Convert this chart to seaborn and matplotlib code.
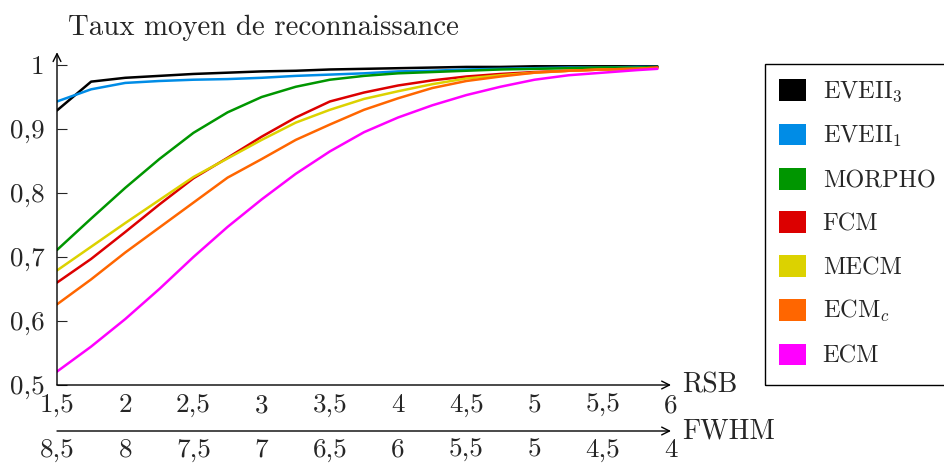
"""
Taux moyen de reconnaissance en fonction du RSB / FWHM.
"""
import numpy as np
import pandas as pd
import matplotlib
matplotlib.use('Agg')
import matplotlib.pyplot as plt
import seaborn as sns
from matplotlib.patches import Patch, Rectangle

# valeurs
rsb = [1.5, 1.75, 2.0, 2.25, 2.5, 2.75, 3.0, 3.25, 3.5, 3.75,
       4.0, 4.25, 4.5, 4.75, 5.0, 5.25, 5.5, 5.75, 5.9]
eveii3 = [.929, .974, .980, .983, .986, .988, .990, .991, .993, .994,
          .995, .996, .997, .997, .998, .998, .998, .998, .998]
eveii1 = [.943, .962, .972, .975, .977, .978, .980, .983, .985, .987,
          .990, .991, .993, .994, .995, .996, .996, .997, .997]
morpho = [.711, .760, .808, .853, .894, .926, .950, .966, .977, .983,
          .987, .989, .991, .993, .994, .995, .996, .996, .997]
fcm = [.660, .697, .739, .782, .823, .855, .888, .918, .943, .957,
       .968, .976, .982, .986, .989, .991, .993, .994, .996]
mecm = [.679, .716, .753, .789, .825, .854, .883, .910, .930, .947,
        .959, .970, .979, .984, .988, .991, .993, .994, .995]
ecmc = [.626, .665, .707, .746, .785, .824, .853, .883, .907, .930,
        .948, .964, .975, .982, .988, .991, .993, .994, .996]
ecm = [.521, .560, .603, .650, .700, .747, .790, .830, .865, .895,
       .918, .937, .953, .966, .977, .984, .988, .992, .994]

methods = [r'EVEII$_3$', r'EVEII$_1$', 'MORPHO', 'FCM', 'MECM', r'ECM$_c$', 'ECM']
series = [eveii3, eveii1, morpho, fcm, mecm, ecmc, ecm]
colors = ['#000000', '#008ce6', '#009600', '#dc0000', '#dcd200', '#ff6600', '#ff00ff']

rsb_ticks = [1.5, 2, 2.5, 3, 3.5, 4, 4.5, 5, 5.5, 6]
fwhm_ticks = [8.5, 8, 7.5, 7, 6.5, 6, 5.5, 5, 4.5, 4]
y_ticks = [0.5, 0.6, 0.7, 0.8, 0.9, 1.0]


def fr(v):
    s = f'{v:g}'
    return s.replace('.', ',')


df = pd.DataFrame({
    'RSB': rsb * len(methods),
    'taux': np.concatenate(series),
    'methode': np.repeat(methods, len(rsb)),
})

sns.set_style('white')
plt.rcParams['font.family'] = ['cmr10', 'DejaVu Serif']
plt.rcParams['mathtext.fontset'] = 'cm'
plt.rcParams['axes.formatter.use_mathtext'] = True

W, H = 945, 463
fig = plt.figure(figsize=(W / 100, H / 100), dpi=100)
ax = fig.add_axes([57 / W, 78 / H, 614 / W, 320 / H])

sns.lineplot(data=df, x='RSB', y='taux', hue='methode', hue_order=methods,
             palette=colors, linewidth=1.8, legend=False, ax=ax)

ax.set_xlim(1.5, 6)
ax.set_ylim(0.5, 1.0)
ax.set_xlabel('')
ax.set_ylabel('')
for s in ax.spines.values():
    s.set_visible(False)

arrow = dict(arrowstyle='->', lw=1.0, color='black', shrinkA=0, shrinkB=0,
             mutation_scale=14)
ax.annotate('', xy=(1.0, 0), xytext=(0, 0), xycoords='axes fraction',
            arrowprops=arrow, annotation_clip=False)
ax.annotate('', xy=(0, 1.04), xytext=(0, 0), xycoords='axes fraction',
            arrowprops=arrow, annotation_clip=False)

fs = 19.5
ax.set_xticks(rsb_ticks)
ax.set_xticklabels([fr(v) for v in rsb_ticks], fontsize=fs)
ax.set_yticks(y_ticks)
ax.set_yticklabels([fr(v) for v in y_ticks], fontsize=fs)
ax.tick_params(axis='x', bottom=True, length=0, pad=6)
ax.tick_params(axis='y', left=True, direction='in', length=7, width=0.8, pad=9)

# second axe (FWHM)
loc2 = -46 / 320
sec = ax.secondary_xaxis(loc2, functions=(lambda x: 10 - x, lambda x: 10 - x))
sec.set_xticks(fwhm_ticks, labels=[fr(v) for v in fwhm_ticks])
sec.tick_params(axis='x', length=0, pad=5, labelsize=fs)
for s in sec.spines.values():
    s.set_visible(False)
ax.annotate('', xy=(1.0, loc2), xytext=(0, loc2), xycoords='axes fraction',
            arrowprops=arrow, annotation_clip=False)

ax.text(1.0 + 11 / 614, 0.0, 'RSB', transform=ax.transAxes, fontsize=20,
        ha='left', va='center')
ax.text(1.0 + 11 / 614, loc2, 'FWHM', transform=ax.transAxes, fontsize=20,
        ha='left', va='center')

fig.text(68 / W, 1 - 35 / H, 'Taux moyen de reconnaissance', fontsize=20.8,
         ha='left', va='baseline')

# légende
fig.add_artist(Rectangle((765 / W, 78 / H), 0.3, 321 / H, transform=fig.transFigure,
                         fill=False, edgecolor='black', lw=1.0))
handles = [Patch(facecolor=c, edgecolor='none', label=m) for m, c in zip(methods, colors)]
fig.legend(handles=handles, loc='upper left', bbox_to_anchor=(779 / W, 1 - 79 / H),
           frameon=False, fontsize=17.5, handlelength=1.1, handleheight=1.0,
           handletextpad=0.7, labelspacing=0.79, borderpad=0, borderaxespad=0)

fig.savefig('out.png', dpi=100)
